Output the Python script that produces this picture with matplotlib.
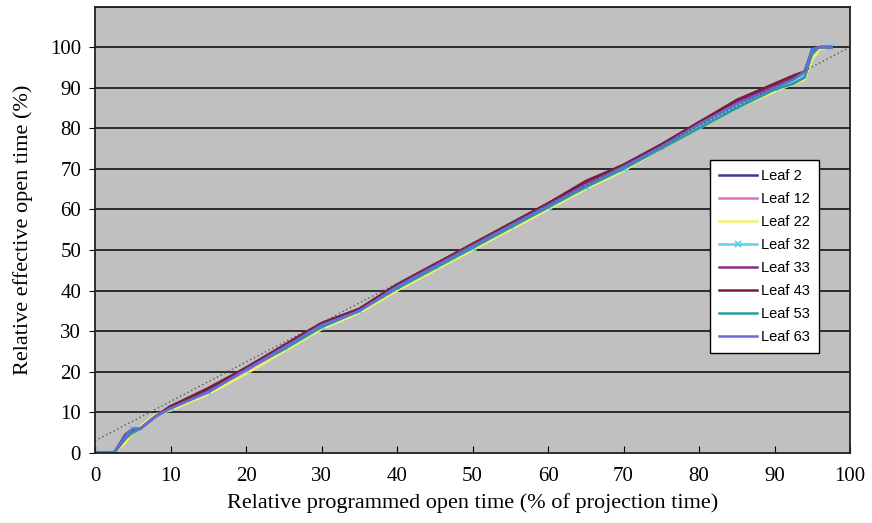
import matplotlib
matplotlib.use("Agg")
import matplotlib.pyplot as plt

xs = [0, 2.5, 4, 5, 6, 7, 8, 10, 15, 20, 25, 30, 35, 40, 45, 50, 55, 60, 65, 70,
      75, 80, 85, 90, 92.5, 94, 95, 96, 97.5]

leaf2 = [0, 0, 4.5, 6, 6, 7.5, 9, 11, 15, 20.5, 26, 31.5, 35, 41, 46, 51, 56, 61, 66, 70.5,
         75.5, 81, 86, 90, 92, 93, 99, 100, 100]
leaf12 = [0, 0, 3, 5.5, 6, 7.5, 9, 11, 15, 20, 25.5, 31, 35, 40.5, 45.5, 50.5, 55.5, 60.5, 65.5, 70,
          75, 80.5, 85.5, 89.5, 91.5, 93, 98, 100, 100]
leaf22 = [0, 0, 2.5, 5, 6.5, 8, 9.5, 10.5, 14.5, 19.5, 25, 30.5, 34.5, 40, 45, 50, 55, 60, 65, 69.5,
          75, 80, 85, 89, 91, 92, 97, 99.5, 100]
leaf32 = [0, 0, 4, 6, 6, 7.5, 9, 11, 15, 20.5, 26, 31, 35, 41, 46, 50.5, 56, 60.5, 65.5, 70,
          75.5, 80.5, 85.5, 90, 91.5, 93, 99, 100, 100]
leaf33 = [0, 0, 4, 5.5, 6, 7.5, 9, 11.5, 15.5, 21, 26.5, 32, 35.5, 41.5, 46.5, 51.5, 56.5, 61.5, 66.5, 71,
          76, 81.5, 86.5, 90.5, 92.5, 94, 99, 100, 100]
leaf43 = [0, 0, 3.5, 5.5, 6, 7.5, 9, 11.5, 16, 21, 26.5, 32, 35.5, 41.5, 46.5, 51.5, 56.5, 61.5, 67, 71,
          76, 81.5, 87, 91, 93, 94, 99.5, 100, 100]
leaf53 = [0, 0, 3.5, 5, 6, 7.5, 9, 11, 15, 20.5, 25.5, 31, 35, 40.5, 45.5, 50.5, 55.5, 60.5, 65.5, 70,
          75, 80, 85, 89.5, 91, 92.5, 98.5, 100, 100]
leaf63 = [0, 0, 4, 6, 6, 7.5, 9, 11, 15, 20.5, 26, 31.5, 35, 41, 46, 51, 56, 61, 66, 70.5,
          75.5, 81, 86, 90, 92, 94, 99.5, 100, 100]

labels = ["Leaf 2", "Leaf 12", "Leaf 22", "Leaf 32", "Leaf 33", "Leaf 43", "Leaf 53", "Leaf 63"]
series = [leaf2, leaf12, leaf22, leaf32, leaf33, leaf43, leaf53, leaf63]
colors = ["#3c3c8c", "#e070c8", "#f0f070", "#60d0e8", "#8a2a8a", "#7a1c3c", "#2a9a9a", "#6a6ad8"]

ideal_x = [0, 100]
ideal_y = [3, 100]

fig = plt.figure(figsize=(8.72, 5.23), dpi=100)
ax = fig.add_axes([95/872, (523-453)/523, 755/872, 446.5/523])
ax.set_facecolor("#c0c0c0")

for lab, ys, c in zip(labels, series, colors):
    if lab == "Leaf 32":
        mk = [i for i, x in enumerate(xs) if x % 5 == 0 or x == 97.5 or x == 2.5]
        ax.plot(xs, ys, color=c, lw=1.8, marker="x", ms=5, mew=1.3, markevery=mk, label=lab)
    else:
        ax.plot(xs, ys, color=c, lw=1.8, label=lab)

ax.plot(ideal_x, ideal_y, color="#555555", lw=1, ls=(0, (1, 2)))

ax.set_xlim(0, 100)
ax.set_ylim(0, 110)
ax.set_xticks(range(0, 101, 10))
ax.set_yticks(range(0, 101, 10))
for y in range(10, 111, 10):
    ax.axhline(y, color="#202020", lw=1.3, zorder=0.5)
for s in ax.spines.values():
    s.set_color("#202020")
    s.set_linewidth(1.3)

serif = ["Liberation Serif", "DejaVu Serif"]
for t in ax.get_xticklabels() + ax.get_yticklabels():
    t.set_fontfamily(serif)
    t.set_fontsize(15)
ax.tick_params(axis="x", direction="in", length=5, pad=10)
ax.tick_params(axis="y", direction="out", length=4, pad=6)

ax.set_xlabel("Relative programmed open time (% of projection time)", fontfamily=serif, fontsize=16, labelpad=5)
ax.set_ylabel("Relative effective open time (%)", fontfamily=serif, fontsize=16, labelpad=12)

leg = ax.legend(loc="upper left", bbox_to_anchor=((710-95)/755, (453-160)/446.5),
                prop={"family": "Liberation Sans", "size": 10.5}, frameon=True, fancybox=False,
                edgecolor="black", facecolor="white", framealpha=1, labelspacing=0.62,
                handlelength=2.6, borderpad=0.6, handletextpad=0.3, borderaxespad=0)
leg.get_frame().set_linewidth(1.0)

fig.savefig("out.png", dpi=100)
